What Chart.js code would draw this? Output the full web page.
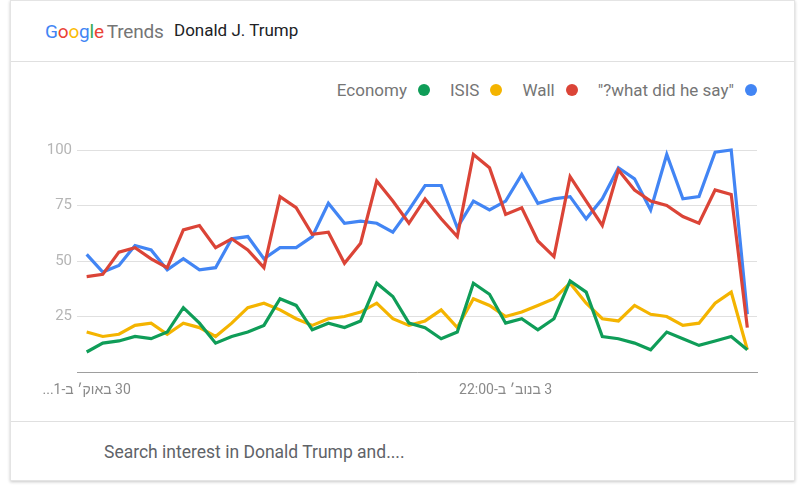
<!DOCTYPE html>
<html>
<head>
<meta charset="utf-8">
<script src="https://cdn.jsdelivr.net/npm/chart.js@4/dist/chart.umd.min.js"></script>
<style>
    body { margin: 0; background: #fff; font-family: Roboto, "Noto Sans", sans-serif; width: 801px; height: 489px; overflow: hidden; position: relative; }
    .card { position: absolute; left: 10px; top: 0; width: 785px; height: 481px; box-sizing: border-box; border: 1px solid #e4e4e4; background: #fff; box-shadow: 0 1px 3px rgba(0,0,0,0.22); }
    .header-line { position: absolute; left: 0; right: 0; top: 60px; border-top: 1px solid #e0e0e0; }
    .footer-line { position: absolute; left: 0; right: 0; top: 420px; border-top: 1px solid #e0e0e0; }
    .logo { position: absolute; left: 34px; top: 19px; font-size: 19px; letter-spacing: -0.2px; }
    .logo .g-b { color: #4285f4; } .logo .g-r { color: #ea4335; } .logo .g-y { color: #fbbc05; } .logo .g-g { color: #34a853; }
    .logo .trends { color: #757575; margin-left: 3px; }
    .topic { position: absolute; left: 163px; top: 19px; font-size: 17px; color: #202124; }
    .footer { position: absolute; left: 93px; top: 441px; font-size: 17.5px; color: #5f6368; }
    #legend { position: absolute; right: 44px; top: 80px; display: flex; align-items: center; font-size: 17px; color: #757575; }
    #legend .item { display: flex; align-items: center; margin-left: 20px; }
    #legend .dot { width: 12px; height: 12px; border-radius: 50%; margin-left: 11px; }
    #chart { position: absolute; left: 0; top: 130px; }
</style>
</head>
<body>
<div class="card">
    <div class="logo"><span class="g-b">G</span><span class="g-r">o</span><span class="g-y">o</span><span class="g-b">g</span><span class="g-g">l</span><span class="g-r">e</span><span class="trends">Trends</span></div>
    <div class="topic">Donald J. Trump</div>
    <div class="header-line"></div>
    <div class="footer-line"></div>
    <div class="footer">Search interest in Donald Trump and....</div>
</div>
<div id="legend"></div>
<canvas id="chart" width="801" height="270" dir="rtl"></canvas>

<script>
// ===== DATA (4-hour steps) =====
const seriesNames = ['Economy', 'ISIS', 'Wall', '"?what did he say"'];
const seriesColors = ['#0f9d58', '#f4b400', '#db4437', '#4285f4'];

const economy = [9, 13, 14, 16, 15, 18, 29, 22, 13, 16, 18, 21, 33, 30, 19,
    22, 20, 23, 40, 34, 22, 20, 15, 18, 40, 35, 22, 24, 19, 24,
    41, 36, 16, 15, 13, 10, 18, 15, 12, 14, 16, 10];
const isis = [18, 16, 17, 21, 22, 17, 22, 20, 16, 22, 29, 31, 28, 24, 21,
    24, 25, 27, 31, 24, 21, 23, 28, 20, 33, 30, 25, 27, 30, 33,
    40, 31, 24, 23, 30, 26, 25, 21, 22, 31, 36, 10];
const wall = [43, 44, 54, 56, 51, 47, 64, 66, 56, 60, 55, 47, 79, 74, 62,
    63, 49, 58, 86, 77, 67, 78, 69, 61, 98, 92, 71, 74, 59, 52,
    88, 77, 66, 91, 82, 77, 75, 70, 67, 82, 80, 20];
const whatDidHeSay = [53, 45, 48, 57, 55, 46, 51, 46, 47, 60, 61, 51, 56, 56, 61,
    76, 67, 68, 67, 63, 73, 84, 84, 65, 77, 73, 77, 89, 76, 78,
    79, 69, 78, 92, 87, 73, 98, 78, 79, 99, 100, 26];

const xTickPos = [0, 26];
const xTickLabels = ['30 באוק׳ ב-1...', '3 בנוב׳ ב-22:00'];
const yTicks = [0, 25, 50, 75, 100];

const allSeries = [economy, isis, wall, whatDidHeSay];

// Build html legend (text first, dot after, like the reference)
function buildLegend() {
    const legend = document.getElementById('legend');
    seriesNames.forEach((name, i) => {
        const item = document.createElement('div');
        item.className = 'item';
        item.innerHTML = `<span>${name}</span><span class="dot" style="background:${seriesColors[i]}"></span>`;
        legend.appendChild(item);
    });
}

function initializeChart() {
    const ctx = document.getElementById('chart');
    const font = 'Roboto, "Noto Sans", sans-serif';

    new Chart(ctx, {
        type: 'line',
        data: {
            datasets: allSeries.map((values, i) => ({
                label: seriesNames[i],
                data: values.map((v, idx) => ({ x: idx, y: v })),
                borderColor: seriesColors[i],
                borderWidth: 3.2,
                pointRadius: 0,
                tension: 0,
                fill: false,
                clip: false
            }))
        },
        options: {
            responsive: false,
            animation: false,
            layout: { padding: { top: 20, right: 44, left: 0, bottom: 0 } },
            plugins: {
                legend: { display: false },
                tooltip: { enabled: false }
            },
            scales: {
                x: {
                    type: 'linear',
                    min: -0.6,
                    max: 41.6,
                    grid: { display: false },
                    border: { display: true, color: '#9e9e9e', width: 1 },
                    afterBuildTicks: s => { s.ticks = xTickPos.map(v => ({ value: v })); },
                    afterFit: s => { s.height = 28; },
                    ticks: {
                        autoSkip: false,
                        maxRotation: 0,
                        padding: 2,
                        color: '#8a8a8a',
                        font: { family: font, size: 14 },
                        callback: v => xTickLabels[xTickPos.indexOf(v)] || ''
                    }
                },
                y: {
                    min: 0,
                    max: 100,
                    grid: { color: '#e0e0e0', drawTicks: false },
                    border: { display: false },
                    afterBuildTicks: s => { s.ticks = yTicks.map(v => ({ value: v })); },
                    afterFit: s => { s.width = 77; },
                    ticks: {
                        padding: 5,
                        color: '#b5b5b5',
                        font: { family: font, size: 15 },
                        callback: v => v === 0 ? '' : v
                    }
                }
            }
        }
    });
}

buildLegend();
initializeChart();
</script>
</body>
</html>
